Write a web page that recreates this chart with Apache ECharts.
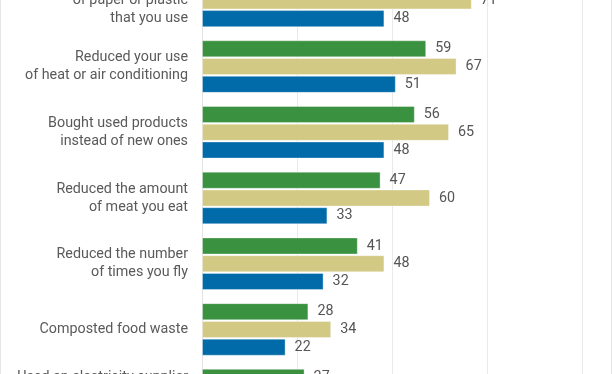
<!DOCTYPE html>
<html><head><meta charset="utf-8">
<script src="https://cdn.jsdelivr.net/npm/echarts@6/dist/echarts.min.js"></script>
<style>html,body{margin:0;padding:0;background:#fff;overflow:hidden}
#wrap{position:relative;width:612px;height:374px;overflow:hidden;border-left:1px solid #e6e6e6;border-right:1px solid #e6e6e6;box-sizing:border-box}
#c{position:absolute;left:-1px;top:-32px;width:612px;height:460px}</style>
</head><body><div id="wrap"><div id="c"></div></div>
<script>
const categories = [
  "Reduced the amount\nof paper or plastic\nthat you use",
  "Reduced your use\nof heat or air conditioning",
  "Bought used products\ninstead of new ones",
  "Reduced the amount\nof meat you eat",
  "Reduced the number\nof times you fly",
  "Composted food waste",
  "Used an electricity supplier\nthat uses renewable\nenergy sources"
];
const seriesA = [62, 59, 56, 47, 41, 28, 27];
const seriesB = [71, 67, 65, 60, 48, 34, 33];
const seriesC = [48, 51, 48, 33, 32, 22, 21];
const xTicks = [0, 25, 50, 75, 100];

const chart = echarts.init(document.getElementById('c'), null, {renderer: 'canvas'});
const lbl = {show: true, position: 'right', distance: 9, color: '#555', fontSize: 14.3, fontFamily: 'Roboto'};
function mk(name, data, color) {
  return {name, type: 'bar', data, barGap: '4%', barCategoryGap: '20%',
    itemStyle: {color, borderColor: 'rgba(255,255,255,0.35)', borderWidth: 1},
    label: lbl, silent: true};
}
chart.setOption({
  animation: false,
  backgroundColor: '#fff',
  grid: {left: 202, right: 30, top: 0, bottom: 0, containLabel: false},
  xAxis: {type: 'value', min: xTicks[0], max: xTicks[xTicks.length-1], interval: 25,
    axisLabel: {show: false}, axisLine: {show: false}, axisTick: {show: false},
    splitLine: {show: true, lineStyle: {color: '#e9e9e9', width: 1}}},
  yAxis: {type: 'category', inverse: true, data: categories,
    axisLine: {show: true, lineStyle: {color: '#e3e3e3'}}, axisTick: {show: false},
    axisLabel: {color: '#5a5a5a', fontSize: 14.3, fontFamily: 'Roboto', lineHeight: 18, margin: 14, align: 'right'}},
  series: [mk('A', seriesA, '#3a913f'), mk('B', seriesB, '#d2c985'), mk('C', seriesC, '#006ba8')]
});
</script></body></html>
